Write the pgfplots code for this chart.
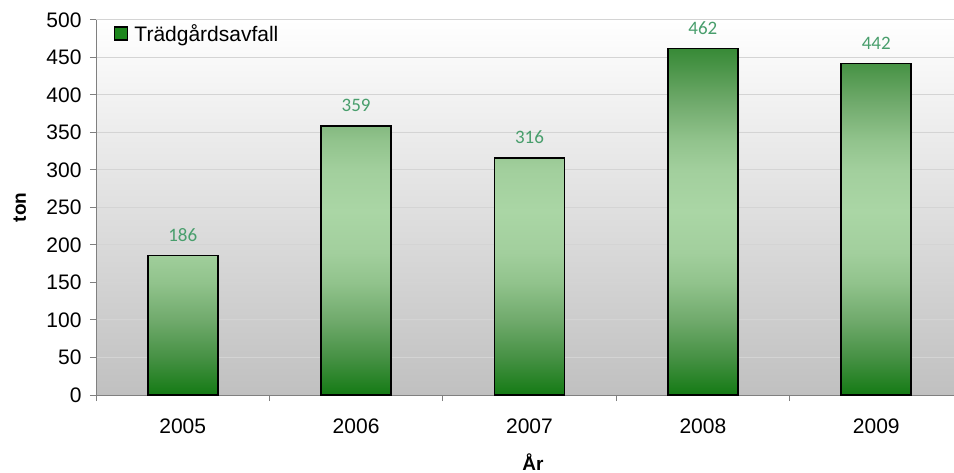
\documentclass[border=0pt]{standalone}
\usepackage{pgfplots}
\pgfplotsset{compat=1.18}
\usepackage{fontspec}
\setmainfont{Liberation Sans}
\newfontfamily\calibri{Carlito}
\definecolor{leggreen}{RGB}{30,135,30}
\definecolor{lblgreen}{RGB}{72,158,108}
\definecolor{axgray}{RGB}{128,128,128}
\definecolor{gridgray}{RGB}{212,212,212}
\definecolor{bggray}{RGB}{192,192,192}
% gradient stops (value: colour)
\definecolor{s0}{RGB}{20,122,20}     % 0
\definecolor{s1}{RGB}{70,145,68}     % 50
\definecolor{s2}{RGB}{112,170,108}   % 100
\definecolor{s3}{RGB}{145,195,140}   % 150
\definecolor{s4}{RGB}{162,207,157}   % 190
\definecolor{s5}{RGB}{170,214,165}   % 245
\definecolor{s6}{RGB}{162,207,157}   % 300
\definecolor{s7}{RGB}{145,195,140}   % 340
\definecolor{s8}{RGB}{112,170,108}   % 390
\definecolor{s9}{RGB}{72,147,70}     % 440
\definecolor{tA}{RGB}{160,206,155}
\definecolor{tB}{RGB}{132,185,128}
\definecolor{tC}{RGB}{155,202,150}
\definecolor{tD}{RGB}{56,138,55}
\definecolor{tE}{RGB}{71,146,69}
\pgfdeclareverticalshading{bsA}{100bp}{color(0bp)=(s0); color(25bp)=(s0); color(38.44bp)=(s1); color(51.88bp)=(s2); color(65.32bp)=(s3); color(75bp)=(tA); color(100bp)=(tA)}
\pgfdeclareverticalshading{bsB}{100bp}{color(0bp)=(s0); color(25bp)=(s0); color(31.96bp)=(s1); color(38.93bp)=(s2); color(45.89bp)=(s3); color(51.46bp)=(s4); color(59.12bp)=(s5); color(66.78bp)=(s6); color(72.35bp)=(s7); color(75bp)=(tB); color(100bp)=(tB)}
\pgfdeclareverticalshading{bsC}{100bp}{color(0bp)=(s0); color(25bp)=(s0); color(32.91bp)=(s1); color(40.82bp)=(s2); color(48.73bp)=(s3); color(55.06bp)=(s4); color(63.77bp)=(s5); color(72.47bp)=(s6); color(75bp)=(tC); color(100bp)=(tC)}
\pgfdeclareverticalshading{bsD}{100bp}{color(0bp)=(s0); color(25bp)=(s0); color(30.41bp)=(s1); color(35.82bp)=(s2); color(41.23bp)=(s3); color(45.56bp)=(s4); color(51.52bp)=(s5); color(57.47bp)=(s6); color(61.80bp)=(s7); color(67.21bp)=(s8); color(72.62bp)=(s9); color(75bp)=(tD); color(100bp)=(tD)}
\pgfdeclareverticalshading{bsE}{100bp}{color(0bp)=(s0); color(25bp)=(s0); color(30.66bp)=(s1); color(36.31bp)=(s2); color(41.97bp)=(s3); color(46.49bp)=(s4); color(52.71bp)=(s5); color(58.94bp)=(s6); color(63.46bp)=(s7); color(69.12bp)=(s8); color(74.77bp)=(s9); color(75bp)=(tE); color(100bp)=(tE)}
\begin{document}
\begin{tikzpicture}
\useasboundingbox (0,0) rectangle (954bp,473bp);
\begin{axis}[
  at={(96bp,78bp)}, anchor=south west,
  scale only axis, width=867bp, height=375bp,
  xmin=-0.5, xmax=4.5, ymin=0, ymax=500,
  axis x line*=bottom, axis y line*=left,
  axis line style={draw=axgray, line width=1bp, -},
  axis background/.style={shade, top color=white, bottom color=bggray},
  ytick={0,50,...,500},
  ymajorgrids, major grid style={draw=gridgray, line width=1bp},
  xtick={0,1,2,3,4},
  xticklabels={2005,2006,2007,2008,2009},
  major x tick style={draw=none},
  minor xtick={-0.5,0.5,1.5,2.5,3.5,4.5},
  minor x tick style={draw=axgray, line width=1bp},
  major y tick style={draw=axgray, line width=1bp},
  tick align=outside, major tick length=6bp, minor tick length=6bp,
  /pgf/number format/assume math mode=true,
  ticklabel style={font=\fontsize{21bp}{24bp}\selectfont},
  xticklabel style={yshift=-14bp},
  yticklabel style={xshift=-5bp},
  ylabel={ton}, xlabel={År},
  ylabel style={at={(axis description cs:-0.088,0.5)}, anchor=center, font=\bfseries\fontsize{19bp}{22bp}\selectfont},
  xlabel style={at={(axis description cs:0.504,-0.18)}, anchor=center, inner sep=0pt, font=\bfseries\fontsize{19bp}{22bp}\selectfont},
  legend style={at={(axis description cs:0.018,1)}, anchor=north west, draw=none, fill=none,
    font=\fontsize{21bp}{24bp}\selectfont, inner sep=2bp, legend cell align=left},
  ybar, bar width=70bp, bar shift=0pt,
  every axis plot/.append style={draw=black, line width=1.8bp, forget plot},
  nodes near coords,
  nodes near coords style={font=\calibri\fontsize{19bp}{22bp}\selectfont, color=lblgreen, anchor=south, yshift=10bp},
  clip=false,
]
\addplot[shade, shading=bsA] coordinates {(0,186)};
\addplot[shade, shading=bsB] coordinates {(1,359)};
\addplot[shade, shading=bsC] coordinates {(2,316)};
\addplot[shade, shading=bsD] coordinates {(3,462)};
\addplot[shade, shading=bsE] coordinates {(4,442)};
\addlegendimage{legend image code/.code={\draw[fill=leggreen, draw=black, line width=1.3bp] (0bp,-6.5bp) rectangle (13bp,6.5bp); \path[draw=none, fill=none] (0bp,0bp) -- (18bp,0bp);}}
\addlegendentry{Trädgårdsavfall}
\end{axis}
\end{tikzpicture}
\end{document}
